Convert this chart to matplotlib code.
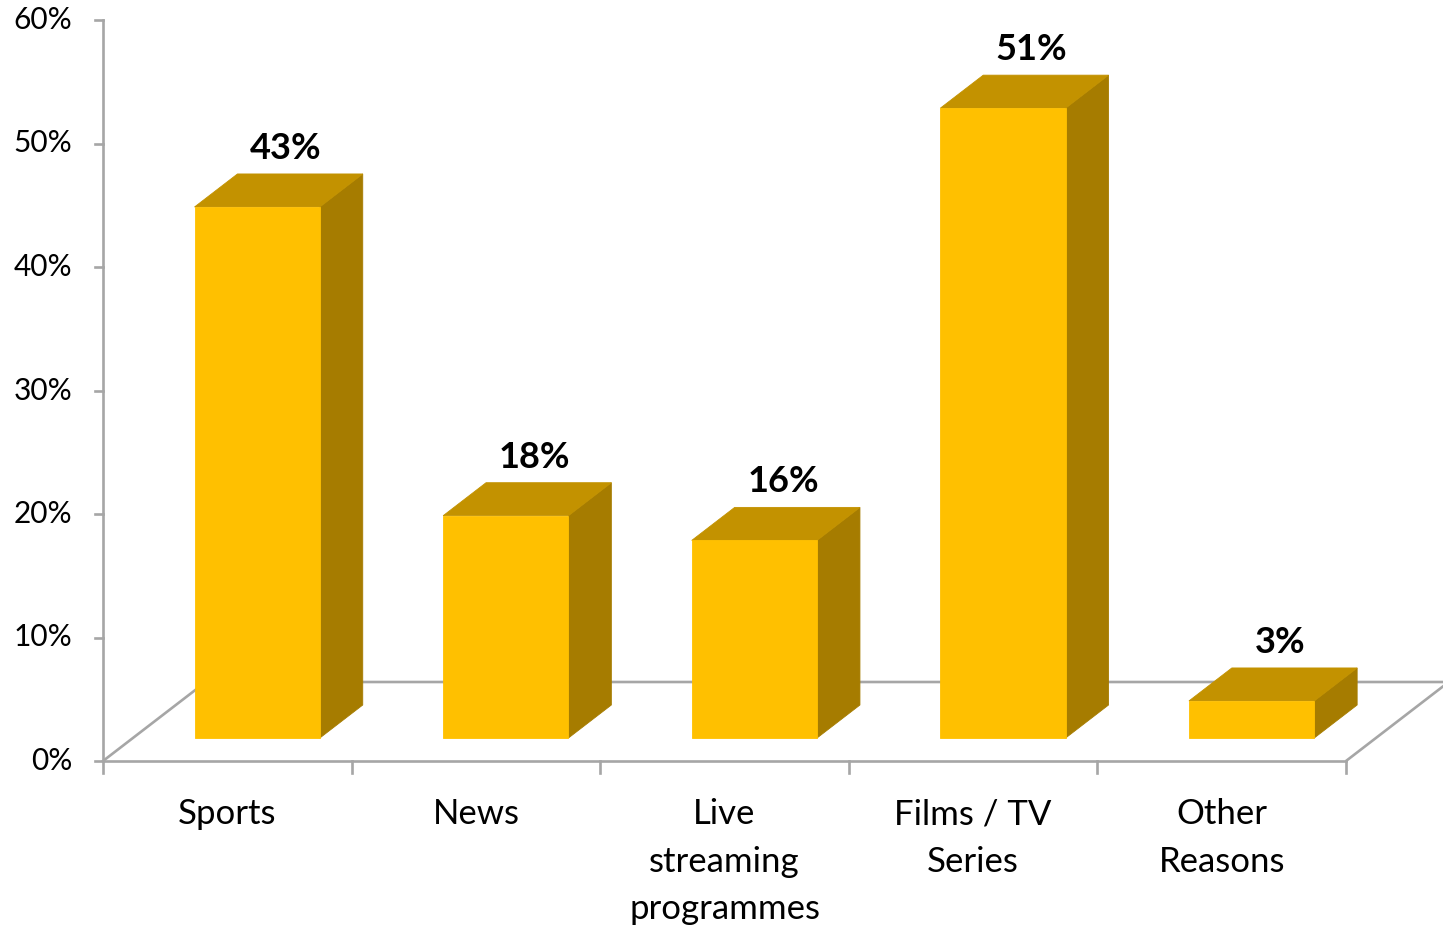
import matplotlib
matplotlib.use("Agg")
import matplotlib.pyplot as plt
from matplotlib.patches import Polygon

# Survey data
categories = ["Sports", "News", "Live\nstreaming\nprogrammes", "Films / TV\nSeries", "Other\nReasons"]
values = [43, 18, 16, 51, 3]
value_labels = ["43%", "18%", "16%", "51%", "3%"]
y_ticks = [0, 10, 20, 30, 40, 50, 60]
y_tick_labels = ["0%", "10%", "20%", "30%", "40%", "50%", "60%"]

FONT = ["Lato", "DejaVu Sans"]

W, H, DPI = 1443, 931, 100
fig = plt.figure(figsize=(W / DPI, H / DPI), dpi=DPI)
ax = fig.add_axes([0, 0, 1, 1])
ax.set_axis_off()

# pixel geometry of the plotting box
slot_px = 248.6          # width of one category slot
x0_px = 227.3            # centre of the first slot
zero_px = 761.0          # baseline (0%) in pixels from top
pct_px = 12.35           # pixels per percentage point

ax.set_xlim(-x0_px / slot_px, (W - x0_px) / slot_px)
ax.set_ylim(-(H - zero_px) / pct_px, zero_px / pct_px)

# oblique projection of depth (measured in pixels along the vertical)
SKEW = 1.3


def proj(x, y, z):
    """Project (category x, percent y, depth z px) into data coordinates."""
    return x + SKEW * z / slot_px, y + z / pct_px


line_col = "#a6a6a6"
lw = 1.9

# floor
z_floor = 79
x_left, x_right = -0.5, len(categories) - 0.5
floor_pts = [proj(x_left, 0, 0), proj(x_right, 0, 0), proj(x_right, 0, z_floor),
             proj(x_left, 0, z_floor), proj(x_left, 0, 0)]
ax.plot([p[0] for p in floor_pts[1:4]], [p[1] for p in floor_pts[1:4]],
        color=line_col, lw=lw, zorder=1, solid_capstyle="butt")
ax.plot([floor_pts[3][0], floor_pts[4][0]], [floor_pts[3][1], floor_pts[4][1]],
        color=line_col, lw=lw, zorder=1)
ax.plot([x_left, x_right], [0, 0], color=line_col, lw=lw, zorder=1)

# value axis
ax.plot([x_left, x_left], [0, y_ticks[-1]], color=line_col, lw=lw, zorder=1)
tick_len = 8 / slot_px
for t, lab in zip(y_ticks, y_tick_labels):
    ax.plot([x_left - tick_len, x_left], [t, t], color=line_col, lw=lw, zorder=1)
    ax.text(x_left - 31 / slot_px, t, lab, ha="right", va="center",
            fontsize=21.5, family=FONT, color="#000000")

# category ticks and labels
for k in range(len(categories) + 1):
    xb = x_left + k
    ax.plot([xb, xb], [0, -12 / pct_px], color=line_col, lw=lw, zorder=1)
for i, cat in enumerate(categories):
    ax.text(i, -37 / pct_px, cat, ha="center", va="top", fontsize=25,
            family=FONT, linespacing=1.6, color="#000000")

# 3-D columns
front_col, top_col, side_col = "#FFC000", "#C39200", "#A67C00"
half_w = 0.252
z_front, z_back = 23, 56
for i, v in enumerate(values):
    xl, xr = i - half_w, i + half_w
    front = [proj(xl, 0, z_front), proj(xr, 0, z_front), proj(xr, v, z_front), proj(xl, v, z_front)]
    top = [proj(xl, v, z_front), proj(xr, v, z_front), proj(xr, v, z_back), proj(xl, v, z_back)]
    side = [proj(xr, 0, z_front), proj(xr, 0, z_back), proj(xr, v, z_back), proj(xr, v, z_front)]
    for pts, c in ((side, side_col), (top, top_col), (front, front_col)):
        ax.add_patch(Polygon(pts, closed=True, facecolor=c, edgecolor=c, lw=0.6, zorder=3))
    cx, _ = proj(i, v, 45)
    _, ty = proj(i, v, z_back)
    ax.text(cx, ty + 15 / pct_px, value_labels[i], ha="center", va="baseline",
            fontsize=26, fontweight="bold", family=FONT, color="#000000", zorder=4)

fig.savefig("out.png", dpi=DPI)
